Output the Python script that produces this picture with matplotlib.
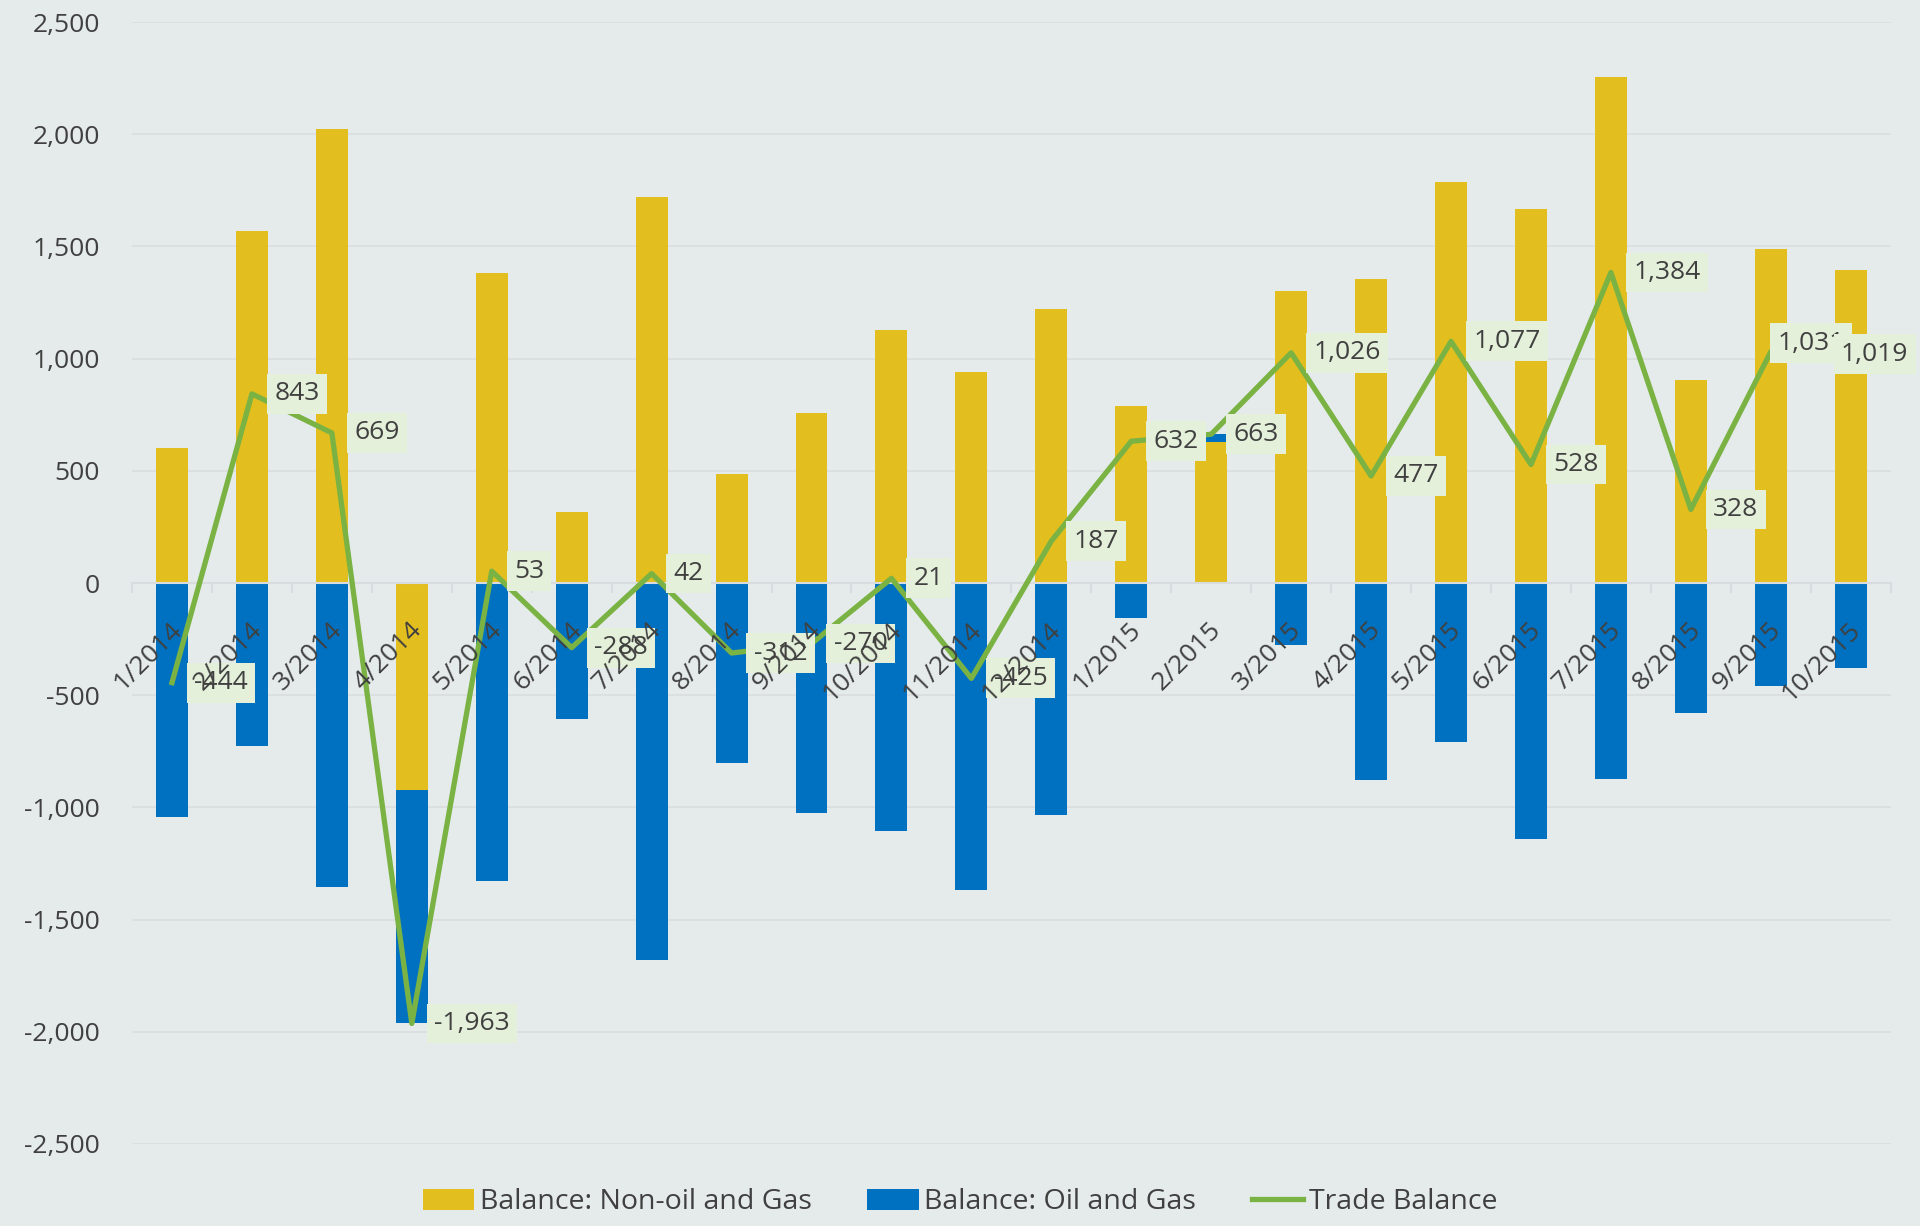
import matplotlib.pyplot as plt
import numpy as np

plt.rcParams['font.family'] = ['Open Sans', 'DejaVu Sans']

# Monthly balances
months = ["1/2014", "2/2014", "3/2014", "4/2014", "5/2014", "6/2014", "7/2014", "8/2014",
          "9/2014", "10/2014", "11/2014", "12/2014", "1/2015", "2/2015", "3/2015", "4/2015",
          "5/2015", "6/2015", "7/2015", "8/2015", "9/2015", "10/2015"]
non_oil = [600, 1570, 2022, -922, 1383, 318, 1720, 488, 757, 1128, 941, 1222,
           787, 630, 1302, 1356, 1786, 1668, 2257, 906, 1490, 1396]
oil_gas = [-1044, -727, -1353, -1041, -1330, -606, -1678, -800, -1027, -1107, -1366, -1035,
           -155, 33, -276, -879, -709, -1140, -873, -578, -459, -377]
trade = [-444, 843, 669, -1963, 53, -288, 42, -312, -270, 21, -425, 187,
         632, 663, 1026, 477, 1077, 528, 1384, 328, 1031, 1019]

yellow = '#E2BE1F'
blue = '#0070C0'
green = '#7AB343'
bg = '#E5EBEA'
txt = '#404040'
fs = 19

fig = plt.figure(figsize=(19.2, 12.26), dpi=100, facecolor=bg)
ax = fig.add_axes([0.06875, 0.0669, 0.916, 0.9151])
ax.set_facecolor(bg)

x = np.arange(len(months))
non_oil = np.array(non_oil)
oil_gas = np.array(oil_gas)
# stack oil & gas on top of non-oil only where both have the same sign
oil_bottom = np.where(np.sign(oil_gas) == np.sign(non_oil), non_oil, 0)

b1 = ax.bar(x, non_oil, width=0.4, color=yellow, label="Balance: Non-oil and Gas", zorder=1)
b2 = ax.bar(x, oil_gas, width=0.4, bottom=oil_bottom, color=blue, label="Balance: Oil and Gas", zorder=1)
l1, = ax.plot(x, trade, color=green, lw=3.8, label="Trade Balance", zorder=3)

# data labels on the trade balance line (last two pulled left like Excel does at the edge)
offsets = [(16, 0)] * len(trade)
offsets[-2] = (5, 6)
offsets[-1] = (-7, 0)
for xi, v, off in zip(x, trade, offsets):
    ax.annotate(f"{v:,}", (xi, v), xytext=off, textcoords='offset points',
                ha='left', va='center', fontsize=fs, color=txt, zorder=6,
                annotation_clip=False,
                bbox=dict(boxstyle='square,pad=0.28', fc='#E4F0D9', ec='none'))

# category labels hang below the zero line
for xi, m in zip(x, months):
    ax.annotate(m, (xi, 0), xytext=(-2, -25), textcoords='offset points',
                rotation=45, rotation_mode='anchor', ha='right', va='top',
                fontsize=fs, color=txt, zorder=10)

ax.set_xlim(-0.5, len(months) - 0.5)
ax.set_ylim(-2500, 2500)
ax.set_yticks(np.arange(-2500, 2501, 500))
ax.set_yticklabels([f"{t:,}" for t in range(-2500, 2501, 500)])
ax.tick_params(axis='y', length=0, pad=23, labelsize=fs, labelcolor=txt)

ax.spines['bottom'].set_position(('data', 0))
ax.spines['bottom'].set_color('#D9DCDE')
ax.spines['bottom'].set_linewidth(1.5)
for s in ['top', 'right', 'left']:
    ax.spines[s].set_visible(False)
ax.set_xticks(np.arange(-0.5, len(months), 1))
ax.set_xticklabels([])
ax.tick_params(axis='x', direction='out', length=7, width=1.5, color='#D9DCDE')

ax.grid(axis='y', color='#DCDEE0', lw=1.3)
ax.set_axisbelow(True)

fig.legend([b1, b2, l1], ["Balance: Non-oil and Gas", "Balance: Oil and Gas", "Trade Balance"],
           loc='lower center', bbox_to_anchor=(0.5, -0.013), ncol=3, frameon=False,
           fontsize=20.5, labelcolor=txt, handlelength=1.8, handleheight=0.75,
           handletextpad=0.2, columnspacing=1.95)

fig.savefig("out.png", dpi=100, facecolor=bg)
